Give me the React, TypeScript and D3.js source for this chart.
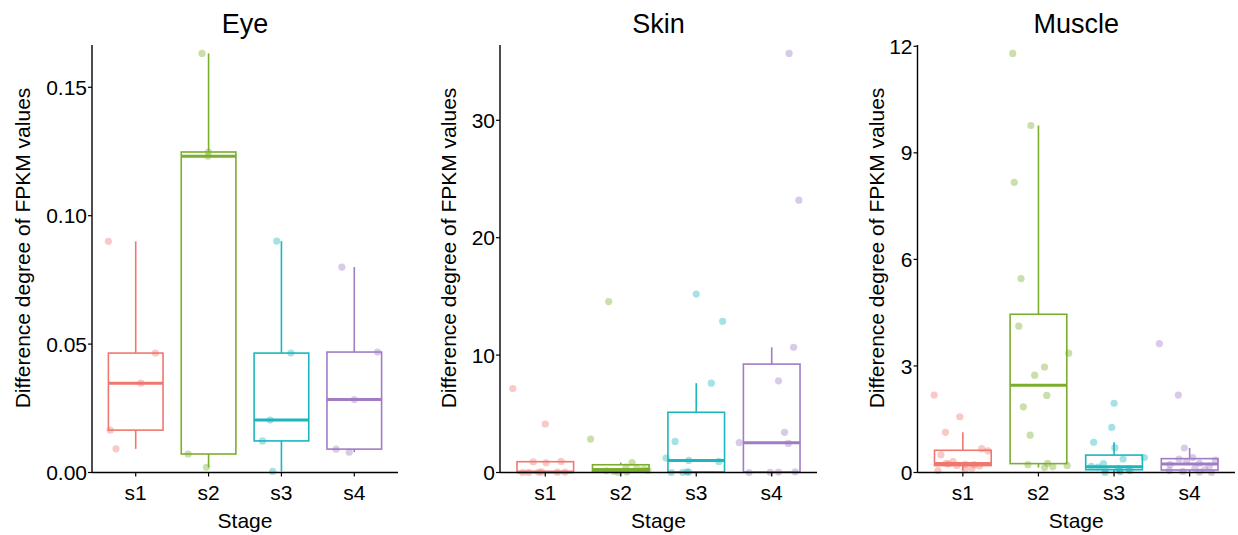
import React from "react";
import * as d3 from "d3";

const stages = ["s1", "s2", "s3", "s4"];
const stageColors = ["#F0776F", "#7CAE2E", "#1DB6BD", "#A07CC5"];

const eyeValues = [
  [0.09, 0.0465, 0.0348, 0.0165, 0.0092],
  [0.1632, 0.1248, 0.1231, 0.0072, 0.002],
  [0.0901, 0.0465, 0.0204, 0.0123, 0.0004],
  [0.08, 0.0469, 0.0284, 0.0091, 0.0079],
];
const eyeJitter = [
  [-0.375, 0.27, 0.07, -0.35, -0.27],
  [-0.09, 0, -0.01, -0.28, -0.03],
  [-0.065, 0.13, -0.155, -0.26, -0.12],
  [-0.17, 0.32, 0, -0.25, -0.07],
];
const eyeTicks = [0, 0.05, 0.1, 0.15];

const skinValues = [
  [7.15, 4.13, 0.94, 0.83, 0, 0.01, 0.02, 0.03, 0.04, 0.05, 0.9],
  [14.56, 2.85, 0.85, 0.47, 0.35, 0.26, 0.2, 0.14, 0.1, 0.05, 0],
  [15.2, 12.88, 7.61, 2.65, 1.23, 1.03, 0.94, 0, 0.02, 0.04, 0.06],
  [35.7, 23.2, 10.66, 7.81, 3.42, 2.54, 2.48, 0, 0.02, 0.04, 0.06],
];
const skinJitter = [
  [-0.43, 0, 0.21, 0.01, -0.3, -0.22, -0.09, 0.16, 0.26, -0.05, -0.16],
  [-0.16, -0.4, 0.15, 0.07, 0.21, 0.3, 0.36, -0.19, -0.09, 0.08, -0.03],
  [0, 0.35, 0.2, -0.28, -0.4, -0.1, 0.3, -0.33, -0.18, -0.1, -0.12],
  [0.23, 0.36, 0.29, 0.09, 0.17, -0.43, 0.22, -0.3, -0.02, 0.09, 0.31],
];
const skinTicks = [0, 10, 20, 30];

const muscleValues = [
  [2.18, 1.57, 1.13, 0.67, 0.61, 0.5, 0.31, 0.26, 0.24, 0.23, 0.22, 0.2, 0.18, 0.12, 0.08, 0.05],
  [11.8, 9.77, 8.17, 5.46, 4.12, 3.36, 2.97, 2.74, 2.17, 1.85, 1.05, 0.26, 0.22, 0.2, 0.16, 0.14],
  [1.95, 1.27, 0.85, 0.7, 0.42, 0.38, 0.25, 0.17, 0.15, 0.12, 0.1, 0.08, 0.07, 0.05, 0.02, 0],
  [3.63, 2.18, 0.69, 0.42, 0.38, 0.35, 0.31, 0.26, 0.22, 0.18, 0.12, 0.075, 0.055, 0.03, 0.01, 0],
];
const muscleJitter = [
  [-0.38, -0.04, -0.23, 0.25, 0.33, -0.29, -0.13, -0.22, -0.19, 0.03, 0.15, -0.08, 0.22, 0.12, 0.03, -0.33],
  [-0.34, -0.1, -0.32, -0.23, -0.26, 0.4, 0.08, -0.05, 0.11, -0.2, -0.11, 0.12, -0.14, 0.38, 0.19, 0.08],
  [0, -0.03, -0.27, 0.01, 0.4, 0.12, -0.14, -0.3, -0.21, 0.05, 0.19, -0.12, 0.08, 0.21, 0.08, -0.12],
  [-0.4, -0.15, -0.07, 0.04, -0.14, 0.34, -0.04, 0.13, -0.26, 0.26, 0.07, 0.2, -0.27, -0.09, 0.13, 0.29],
];
const muscleTicks = [0, 3, 6, 9, 12];

const FONT = "'Liberation Sans', Arial, Helvetica, sans-serif";
const TOP = 45;
const BOTTOM = 472.5;
const FS = 21;

const panels = [
  { title: "Eye", values: eyeValues, jitter: eyeJitter, ticks: eyeTicks, fmt: d3.format(".2f"), left: 92, right: 398, ylabX: 22 },
  { title: "Skin", values: skinValues, jitter: skinJitter, ticks: skinTicks, fmt: d3.format("d"), left: 500, right: 817, ylabX: 448 },
  { title: "Muscle", values: muscleValues, jitter: muscleJitter, ticks: muscleTicks, fmt: d3.format("d"), left: 917.5, right: 1235, ylabX: 876 },
];

function boxStats(vals: number[]) {
  const s = [...vals].sort(d3.ascending);
  const q1 = d3.quantileSorted(s, 0.25) as number;
  const med = d3.quantileSorted(s, 0.5) as number;
  const q3 = d3.quantileSorted(s, 0.75) as number;
  const iqr = q3 - q1;
  const lo = d3.min(s.filter((v) => v >= q1 - 1.5 * iqr)) as number;
  const hi = d3.max(s.filter((v) => v <= q3 + 1.5 * iqr)) as number;
  return { q1, med, q3, lo, hi };
}

function Panel({ p }: { p: (typeof panels)[number] }) {
  const x = d3.scalePoint<string>().domain(stages).range([p.left, p.right]).padding(0.6);
  const step = x.step();
  const maxV = d3.max(p.values.flat()) as number;
  const y = d3.scaleLinear().domain([0, maxV * 1.02]).range([BOTTOM, TOP]);
  const bw = step * 0.75;
  const cx = (p.left + p.right) / 2;
  return (
    <g>
      <text x={cx} y={33} textAnchor="middle" fontSize={27} fontFamily={FONT} fill="#000">
        {p.title}
      </text>
      {stages.map((st, i) => {
        const b = boxStats(p.values[i]);
        const xc = x(st) as number;
        const col = stageColors[i];
        return (
          <g key={st}>
            <line x1={xc} x2={xc} y1={y(b.q3)} y2={y(b.hi)} stroke={col} strokeWidth={1.6} />
            <line x1={xc} x2={xc} y1={y(b.q1)} y2={y(b.lo)} stroke={col} strokeWidth={1.6} />
            <rect x={xc - bw / 2} y={y(b.q3)} width={bw} height={Math.max(0, y(b.q1) - y(b.q3))} fill="white" stroke={col} strokeWidth={1.6} />
            <line x1={xc - bw / 2} x2={xc + bw / 2} y1={y(b.med)} y2={y(b.med)} stroke={col} strokeWidth={3} />
          </g>
        );
      })}
      {stages.map((st, i) =>
        p.values[i].map((v, j) => (
          <circle
            key={st + j}
            cx={(x(st) as number) + p.jitter[i][j] * step}
            cy={y(v)}
            r={3.6}
            fill={stageColors[i]}
            fillOpacity={0.4}
          />
        ))
      )}
      <line x1={p.left} x2={p.left} y1={TOP} y2={BOTTOM} stroke="#000" strokeWidth={1.4} />
      <line x1={p.left} x2={p.right} y1={BOTTOM} y2={BOTTOM} stroke="#000" strokeWidth={1.4} />
      {p.ticks.map((t) => (
        <g key={t}>
          <line x1={p.left - 4} x2={p.left} y1={y(t)} y2={y(t)} stroke="#000" strokeWidth={1.2} />
          <text x={p.left - 5} y={y(t)} dy="0.36em" textAnchor="end" fontSize={FS} fontFamily={FONT} fill="#000">
            {p.fmt(t)}
          </text>
        </g>
      ))}
      {stages.map((st) => (
        <g key={st}>
          <line x1={x(st)} x2={x(st)} y1={BOTTOM} y2={BOTTOM + 4} stroke="#000" strokeWidth={1.2} />
          <text x={x(st)} y={499.5} textAnchor="middle" fontSize={FS} fontFamily={FONT} fill="#000">
            {st}
          </text>
        </g>
      ))}
      <text x={cx} y={528} textAnchor="middle" fontSize={FS} fontFamily={FONT} fill="#000">
        Stage
      </text>
      <text
        transform={`translate(${p.ylabX},${248}) rotate(-90)`}
        dy="0.36em"
        textAnchor="middle"
        fontSize={FS}
        fontFamily={FONT}
        fill="#000"
      >
        Difference degree of FPKM values
      </text>
    </g>
  );
}

export default function App() {
  return (
    <svg width={1238} height={535} style={{ position: "absolute", left: 0, top: 0, background: "#fff" }}>
      <rect width={1238} height={535} fill="#fff" />
      {panels.map((p) => (
        <Panel key={p.title} p={p} />
      ))}
    </svg>
  );
}
